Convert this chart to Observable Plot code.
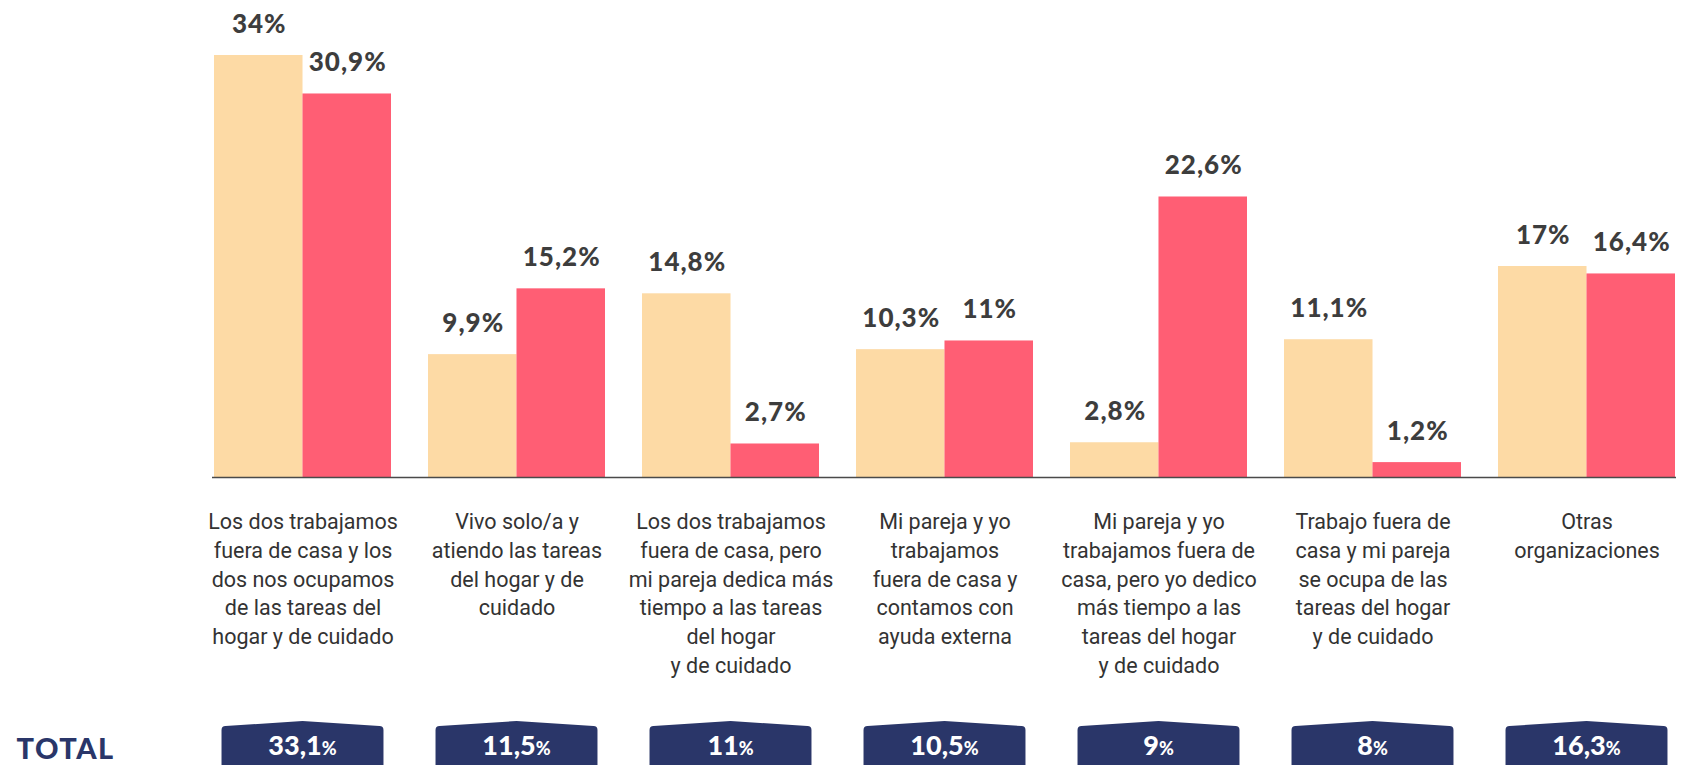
<!DOCTYPE html>
<html><head><meta charset="utf-8">
<script src="https://cdn.jsdelivr.net/npm/d3@7"></script>
<script src="https://cdn.jsdelivr.net/npm/@observablehq/plot@0.6"></script>
<style>
html,body{margin:0;padding:0;background:#fff;}
</style>
</head><body><div id="chart"></div>
<script>
// ---- data ----
const categories = [
  "Los dos trabajamos\nfuera de casa y los\ndos nos ocupamos\nde las tareas del\nhogar y de cuidado",
  "Vivo solo/a y\natiendo las tareas\ndel hogar y de\ncuidado",
  "Los dos trabajamos\nfuera de casa, pero\nmi pareja dedica más\ntiempo a las tareas\ndel hogar\ny de cuidado",
  "Mi pareja y yo\ntrabajamos\nfuera de casa y\ncontamos con\nayuda externa",
  "Mi pareja y yo\ntrabajamos fuera de\ncasa, pero yo dedico\nmás tiempo a las\ntareas del hogar\ny de cuidado",
  "Trabajo fuera de\ncasa y mi pareja\nse ocupa de las\ntareas del hogar\ny de cuidado",
  "Otras\norganizaciones"
];
const serie1 = [34, 9.9, 14.8, 10.3, 2.8, 11.1, 17];
const serie2 = [30.9, 15.2, 2.7, 11, 22.6, 1.2, 16.4];
const totals = [33.1, 11.5, 11, 10.5, 9, 8, 16.3];
const totalLabel = "TOTAL";

// ---- style / layout ----
const W = 1685, H = 765;
const mL = 212, mR = 9, mT = 55, mB = 288;
const padInner = 0.175;
const n = categories.length;
const bw = (W - mL - mR) / (n - padInner) * (1 - padInner);
const c1 = "#FDDAA5", c2 = "#FF5E74", navy = "#2A3669";
const fmt = v => String(v).replace(".", ",");

const rows = categories.map((c, i) => ({cat: c, a: serie1[i], b: serie2[i], t: totals[i]}));

function badges(index, scales, values, dimensions) {
  const x = scales.x;
  const b = (x && typeof x.bandwidth === "function") ? x.bandwidth() : bw;
  const g = d3.create("svg:g").attr("aria-label", "badges");
  const bwid = b * 0.915;
  const top = dimensions.height - 39, peak = top - 5, bottom = dimensions.height + 2, r = 4;
  rows.forEach(d => {
    const cx = x(d.cat) + b / 2;
    const x0 = cx - bwid / 2, x1 = cx + bwid / 2;
    g.append("path")
      .attr("d", `M${x0},${bottom}V${top + r}Q${x0},${top} ${x0 + r},${top}L${cx},${peak}L${x1 - r},${top}Q${x1},${top} ${x1},${top + r}V${bottom}Z`)
      .attr("fill", navy);
    const t = g.append("text")
      .attr("x", cx).attr("y", dimensions.height - 20)
      .attr("dy", "0.36em")
      .attr("text-anchor", "middle")
      .attr("fill", "#fff")
      .attr("font-family", "Lato")
      .attr("font-weight", 900)
      .attr("font-size", 27);
    t.append("tspan").text(fmt(d.t));
    t.append("tspan").attr("font-size", 18).text("%");
  });
  return g.node();
}

const chart = Plot.plot({
  width: W, height: H,
  marginLeft: mL, marginRight: mR, marginTop: mT, marginBottom: mB,
  style: {fontFamily: "Roboto", background: "#fff"},
  x: {type: "band", domain: categories, paddingInner: padInner, paddingOuter: 0, axis: null},
  y: {domain: [0, 34], axis: null},
  marks: [
    Plot.barY(rows, {x: "cat", y: "a", fill: c1, insetRight: bw / 2}),
    Plot.barY(rows, {x: "cat", y: "b", fill: c2, insetLeft: bw / 2}),
    Plot.ruleY([0], {stroke: "#4a4a4a", strokeWidth: 1.5}),
    Plot.text(rows, {x: "cat", y: "a", text: d => fmt(d.a) + "%", dx: -bw / 4 + 0.5, dy: -31,
      fontFamily: "Lato", fontWeight: 900, fontSize: 26, fill: "#3d3d3d", ariaLabel: () => "valores"}),
    Plot.text(rows, {x: "cat", y: "b", text: d => fmt(d.b) + "%", dx: bw / 4 + 0.5, dy: -31,
      fontFamily: "Lato", fontWeight: 900, fontSize: 26, fill: "#3d3d3d", ariaLabel: () => "valores"}),
    Plot.text(categories, {x: d => d, text: d => d, frameAnchor: "bottom", lineAnchor: "top",
      dy: 31, fontSize: 21.5, lineHeight: 1.34, fill: "#333", fontFamily: "Roboto"}),
    Plot.text([totalLabel], {text: d => d, frameAnchor: "bottom-left", textAnchor: "start",
      dx: 16 - mL, dy: 281, fontFamily: "Lato", fontWeight: 900, fontSize: 29, fill: navy, ariaLabel: () => "total-label"}),
    badges
  ]
});
d3.select(chart).selectAll('text[aria-label="valores"]').style("letter-spacing", "1px");
d3.select(chart).selectAll('text[aria-label="total-label"]').style("letter-spacing", "1.5px");
document.getElementById("chart").appendChild(chart);
</script>
</body></html>
